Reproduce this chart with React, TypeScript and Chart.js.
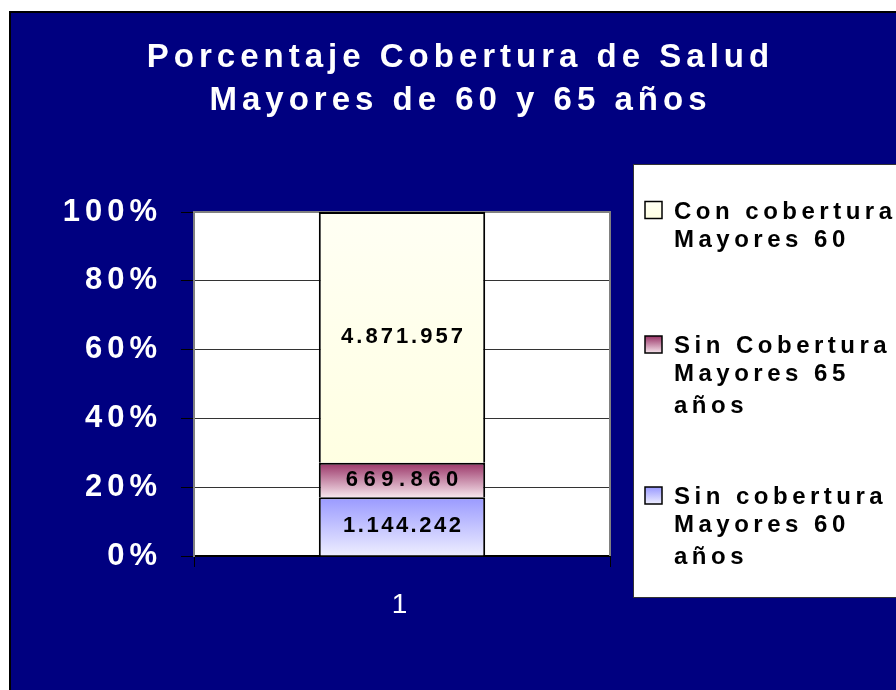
import { useEffect, useRef } from "react";
import { Chart, registerables } from "chart.js";

Chart.register(...registerables);

// ---- data ----
const categories = ["1"];
const sinCobertura60 = [1144242];
const sinCobertura65 = [669860];
const conCobertura60 = [4871957];
const seriesLabels = [
  ["Sin cobertura", "Mayores 60", "años"],
  ["Sin Cobertura", "Mayores 65", "años"],
  ["Con cobertura", "Mayores 60"],
];
const yTickValues = [0, 20, 40, 60, 80, 100];
const titleLines = ["Porcentaje Cobertura de Salud", "Mayores de 60 y 65 años"];

const seriesValues = [sinCobertura60, sinCobertura65, conCobertura60];
const totals = categories.map((_, i) => seriesValues.reduce((s, a) => s + a[i], 0));
const seriesPct = seriesValues.map((a) => a.map((v, i) => (v / totals[i]) * 100));

// ---- styles ----
const FONT = "'Liberation Sans', Arial, Helvetica, sans-serif";
const NARROW = "'Liberation Sans Narrow', 'Arial Narrow', 'Liberation Sans', Arial, sans-serif";
const gradientStops = [
  ["#9999FF", "#EEEEFF"],
  ["#993366", "#F6E4EC"],
  ["#FFFFF4", "#FFFFE2"],
];
const labelSpacing = [2.5, 5.5, 3];

const fmt = (v: number) => String(v).replace(/\B(?=(\d{3})+(?!\d))/g, ".");

function barFill(c: any, k: number) {
  const chart = c.chart;
  const y = chart.scales && chart.scales.y;
  const stops = gradientStops[k];
  if (!y || !chart.chartArea || c.dataIndex === undefined) return stops[1];
  let start = 0;
  for (let i = 0; i < k; i++) start += seriesPct[i][c.dataIndex];
  const end = start + seriesPct[k][c.dataIndex];
  const y0 = y.getPixelForValue(end);
  const y1 = y.getPixelForValue(start);
  const g = chart.ctx.createLinearGradient(0, y0, 0, y1);
  g.addColorStop(0, stops[0]);
  g.addColorStop(1, stops[1]);
  return g;
}

const backgroundPlugin = {
  id: "bgPlugin",
  beforeDraw(chart: any) {
    const { ctx, width, height, chartArea: a } = chart;
    ctx.save();
    ctx.fillStyle = "#ffffff";
    ctx.fillRect(0, 0, width, height);
    ctx.fillStyle = "#000080";
    ctx.fillRect(10, 12, width - 10, height - 12);
    ctx.strokeStyle = "#000000";
    ctx.lineWidth = 2;
    ctx.beginPath();
    ctx.moveTo(10, height);
    ctx.lineTo(10, 12);
    ctx.lineTo(width, 12);
    ctx.stroke();
    ctx.fillStyle = "#ffffff";
    ctx.fillRect(a.left, a.top, a.right - a.left, a.bottom - a.top);
    ctx.restore();
    (ctx as any).letterSpacing = "5px";
  },
  beforeDatasetsDraw(chart: any) {
    const { ctx, chartArea: a } = chart;
    ctx.save();
    ctx.strokeStyle = "#808080";
    ctx.lineWidth = 2;
    ctx.beginPath();
    ctx.moveTo(a.left, a.top);
    ctx.lineTo(a.right, a.top);
    ctx.lineTo(a.right, a.bottom);
    ctx.stroke();
    ctx.restore();
  },
  afterDatasetsDraw(chart: any) {
    const { ctx } = chart;
    ctx.save();
    ctx.font = `bold 22px ${FONT}`;
    ctx.fillStyle = "#000000";
    ctx.textAlign = "center";
    ctx.textBaseline = "middle";
    seriesValues.forEach((vals, k) => {
      const sp = labelSpacing[k];
      (ctx as any).letterSpacing = sp + "px";
      const meta = chart.getDatasetMeta(k);
      meta.data.forEach((bar: any, j: number) => {
        const cy = (bar.y + bar.base) / 2;
        ctx.fillText(fmt(vals[j]), bar.x + sp / 2, cy);
      });
    });
    ctx.restore();
  },
  afterDraw(chart: any) {
    const { ctx, width } = chart;
    ctx.save();
    // title
    const ts = 5;
    (ctx as any).letterSpacing = ts + "px";
    ctx.font = `bold 33px ${FONT}`;
    ctx.fillStyle = "#ffffff";
    ctx.textAlign = "center";
    ctx.textBaseline = "alphabetic";
    titleLines.forEach((t, i) => {
      ctx.fillText(t, 458 + ts / 2, 67 + i * 43);
    });
    // legend box
    const bx = 633, by = 164, bb = 597;
    ctx.fillStyle = "#ffffff";
    ctx.fillRect(bx, by, width - bx + 5, bb - by);
    ctx.strokeStyle = "#333333";
    ctx.lineWidth = 1;
    ctx.strokeRect(bx + 0.5, by + 0.5, width - bx + 5, bb - by);
    const entryBaselines = [218.5, 353, 504];
    const lineOffsets = [0, 28, 60];
    const order = [2, 1, 0];
    (ctx as any).letterSpacing = "4.5px";
    ctx.font = `bold 24px ${FONT}`;
    ctx.textAlign = "left";
    order.forEach((k, idx) => {
      const base = entryBaselines[idx];
      const sx = 645, sw = 17, sh = 17, sy = base - sh;
      const g = ctx.createLinearGradient(0, sy, 0, sy + sh);
      g.addColorStop(0, gradientStops[k][0]);
      g.addColorStop(1, gradientStops[k][1]);
      ctx.fillStyle = g;
      ctx.fillRect(sx, sy, sw, sh);
      ctx.strokeStyle = "#000000";
      ctx.lineWidth = 1.5;
      ctx.strokeRect(sx, sy, sw, sh);
      ctx.fillStyle = "#000000";
      seriesLabels[k].forEach((line, li) => {
        ctx.fillText(line, 674, base + lineOffsets[li]);
      });
    });
    ctx.restore();
  },
};

export default function App() {
  const ref = useRef<HTMLCanvasElement | null>(null);
  useEffect(() => {
    if (!ref.current) return;
    const chart = new Chart(ref.current, {
      type: "bar",
      data: {
        labels: categories,
        datasets: seriesValues.map((_, k) => ({
          label: seriesLabels[k].join(" "),
          data: seriesPct[k],
          backgroundColor: (c: any) => barFill(c, k),
          borderColor: "#000000",
          borderWidth: 2,
          barPercentage: 0.4,
          categoryPercentage: 1,
        })),
      },
      options: {
        animation: false,
        responsive: false,
        devicePixelRatio: 1,
        layout: { padding: { left: 10, top: 212, right: 286, bottom: 0 } },
        plugins: {
          legend: { display: false },
          title: { display: false },
          tooltip: { enabled: false },
        },
        scales: {
          x: {
            stacked: true,
            afterFit: (s: any) => {
              s.height = 134;
            },
            grid: {
              offset: true,
              drawOnChartArea: false,
              tickLength: 11,
              tickColor: "#000000",
              lineWidth: 1,
            },
            border: { color: "#000000", width: 2 },
            ticks: {
              color: "#ffffff",
              padding: 21,
              font: { family: NARROW, size: 28, weight: "normal" },
            },
          },
          y: {
            stacked: true,
            min: 0,
            max: 100,
            afterFit: (s: any) => {
              s.width = 184;
            },
            afterBuildTicks: (s: any) => {
              s.ticks = yTickValues.map((v) => ({ value: v }));
            },
            grid: {
              color: "#333333",
              tickColor: "#000000",
              tickLength: 13,
              lineWidth: 1,
            },
            border: { color: "#808080", width: 2 },
            ticks: {
              color: "#ffffff",
              padding: 19,
              autoSkip: false,
              font: { family: FONT, size: 31, weight: "bold" },
              callback: (v: any) => v + "%",
            },
          },
        },
      },
      plugins: [backgroundPlugin],
    });
    return () => chart.destroy();
  }, []);
  return (
    <div style={{ position: "fixed", left: 0, top: 0, width: 896, height: 690 }}>
      <canvas ref={ref} width={896} height={690} style={{ display: "block" }} />
    </div>
  );
}
